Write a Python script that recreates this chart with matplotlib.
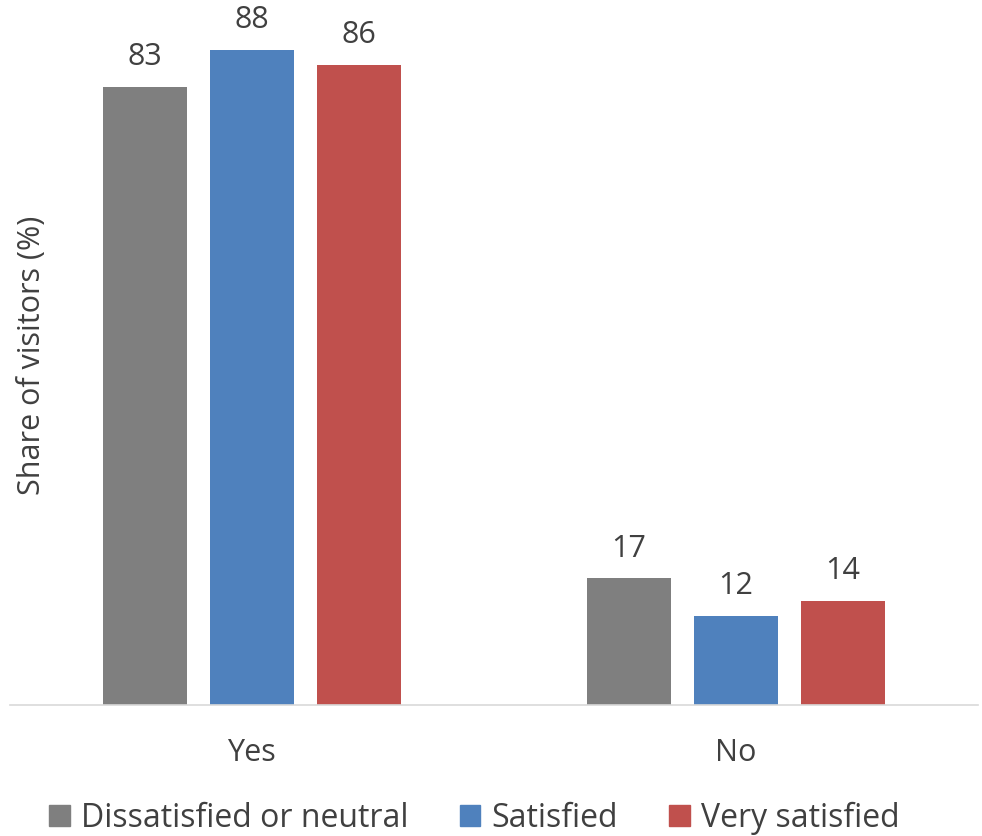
import numpy as np
import matplotlib
matplotlib.use("Agg")
import matplotlib.pyplot as plt
from matplotlib.patches import Patch

plt.rcParams['font.family'] = ['Open Sans', 'DejaVu Sans']

categories = ["Yes", "No"]
series_names = ["Dissatisfied or neutral", "Satisfied", "Very satisfied"]
dissatisfied = [83, 17]
satisfied = [88, 12]
very_satisfied = [86, 14]
colors = ["#7f7f7f", "#4f81bd", "#c0504d"]

FS = 22
TXT = "#404040"

fig = plt.figure(figsize=(9.82, 8.36), dpi=100)
ax = fig.add_axes([0.010, 1 - 705 / 836, 0.986, 700 / 836])

x = np.arange(len(categories))
width = 0.174
offsets = [-0.221, 0, 0.221]

for vals, off, col in zip([dissatisfied, satisfied, very_satisfied], offsets, colors):
    bars = ax.bar(x + off, vals, width, color=col)
    for b, v in zip(bars, vals):
        ax.text(b.get_x() + b.get_width() / 2, v + 2.0, str(v),
                ha="center", va="bottom", fontsize=FS, color=TXT)

ax.set_xlim(-0.5, 1.5)
ax.set_ylim(0, 94)
ax.set_xticks(x)
ax.set_xticklabels(categories, fontsize=FS, color=TXT)
ax.tick_params(axis="x", length=0, pad=24)
ax.set_yticks([])
for s in ["top", "right", "left"]:
    ax.spines[s].set_visible(False)
ax.spines["bottom"].set_color("#d9d9d9")
ax.spines["bottom"].set_linewidth(1.2)

fig.text(0.033, 1 - 355 / 836, "Share of visitors (%)", rotation=90,
         ha="center", va="center", fontsize=FS, color=TXT)

handles = [Patch(facecolor=c, edgecolor=c) for c in colors]
fig.legend(handles, series_names, loc="center", bbox_to_anchor=(0.483, 1 - 818 / 836),
           ncol=3, frameon=False, fontsize=23, handlelength=0.65, handleheight=0.65,
           handletextpad=0.35, columnspacing=1.6, labelcolor=TXT)

fig.savefig("out.png", dpi=100)
